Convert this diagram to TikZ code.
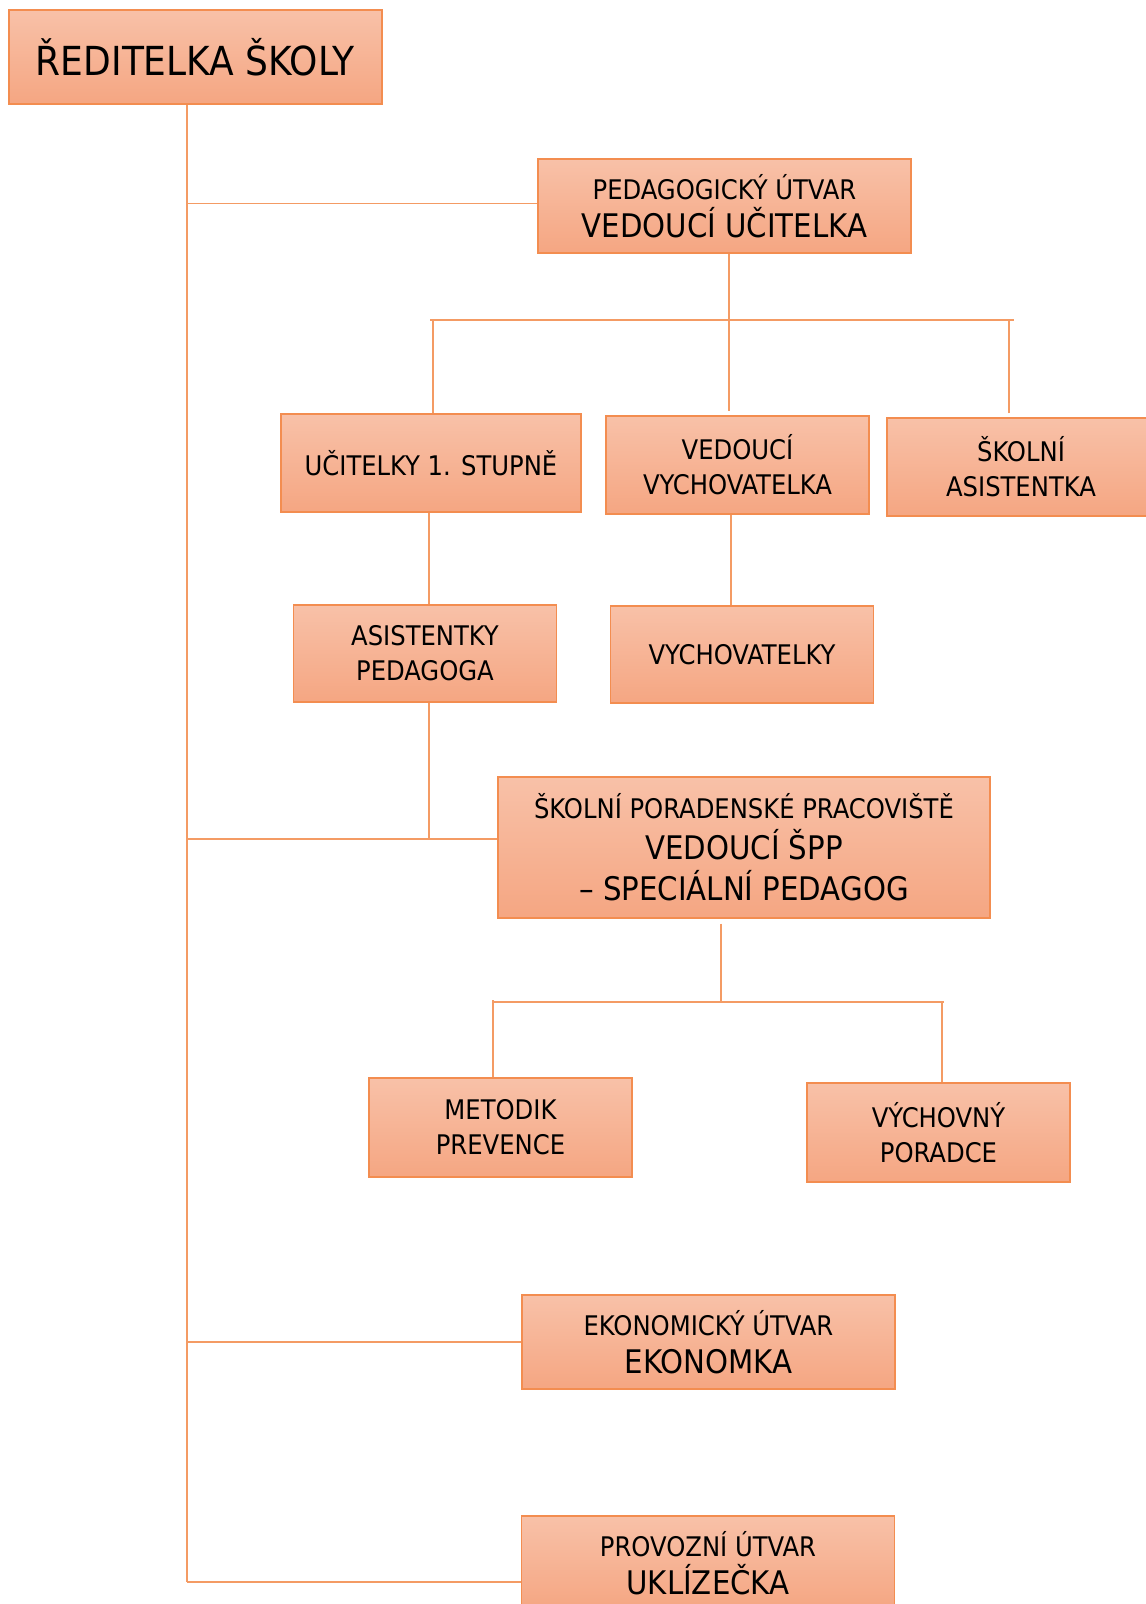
\documentclass[tikz,border=0pt]{standalone}
\usepackage{fontspec}
\setmainfont{DejaVu Sans Condensed}
\usetikzlibrary{positioning}
\definecolor{boxtop}{RGB}{248,193,168}
\definecolor{boxbot}{RGB}{245,166,130}
\definecolor{boxline}{RGB}{243,141,80}
\definecolor{linkline}{RGB}{244,155,100}
\tikzset{
		orgbox/.style={draw=boxline, line width=1.4pt, top color=boxtop, bottom color=boxbot,
			align=center, inner sep=0pt, minimum width=263pt, minimum height=98pt,
			font=\fontsize{27}{35}\selectfont},
		widebox/.style={orgbox, minimum width=373pt, minimum height=94pt,
			font=\fontsize{27}{38}\selectfont},
		link/.style={draw=linkline, line width=1.3pt}
	}
\newcommand{\Small}[1]{{\fontsize{27}{30}\selectfont #1}}
\newcommand{\Head}[1]{{\fontsize{32.5}{36}\selectfont #1}}

\begin{document}
\begin{tikzpicture}[x=1pt, y=-1pt]
		\useasboundingbox (0, 0) rectangle (1146, 1604);
		% boxes
		\node[widebox, font=\fontsize{40}{44}\selectfont] (root) at (195.5, 57) {ŘEDITELKA ŠKOLY};
		\node[widebox] (ped) at (724.5, 206) {\Small{PEDAGOGICKÝ ÚTVAR}\\\Head{VEDOUCÍ UČITELKA}};
		\node[orgbox, minimum width=300pt] (ucit) at (431, 463) {UČITELKY 1. STUPNĚ};
		\node[orgbox] (vedvych) at (737.5, 465) {VEDOUCÍ\\VYCHOVATELKA};
		\node[orgbox, minimum width=268pt] (skas) at (1021, 467) {ŠKOLNÍ\\ASISTENTKA};
		\node[orgbox, minimum height=97pt] (asist) at (425, 653.5) {ASISTENTKY\\PEDAGOGA};
		\node[orgbox, minimum height=97pt] (vych) at (742, 654.5) {VYCHOVATELKY};
		\node[orgbox, minimum width=492pt, minimum height=141pt, font=\fontsize{27}{41}\selectfont] (spp) at (744, 847.5)
			{\Small{ŠKOLNÍ PORADENSKÉ PRACOVIŠTĚ}\\\Head{VEDOUCÍ ŠPP}\\\Head{– SPECIÁLNÍ PEDAGOG}};
		\node[orgbox, minimum height=99pt] (metodik) at (500.5, 1127.5) {METODIK\\PREVENCE};
		\node[orgbox, minimum height=99pt] (porad) at (938.5, 1132.5) {VÝCHOVNÝ\\PORADCE};
		\node[widebox] (ekon) at (708.5, 1342) {\Small{EKONOMICKÝ ÚTVAR}\\\Head{EKONOMKA}};
		\node[widebox] (provoz) at (708, 1563) {\Small{PROVOZNÍ ÚTVAR}\\\Head{UKLÍZEČKA}};
		% trunk and branches
		\coordinate (trunkend) at (187, 1582);
		\coordinate (pedjoin) at ([yshift=2.5pt]ped.west);
		\coordinate (sppjoin) at ([yshift=8.5pt]spp.west);
		\coordinate (provjoin) at ([yshift=-19pt]provoz.west);
		\draw[link] (root.south -| trunkend) -- (trunkend);
		\draw[link] (trunkend |- pedjoin) -- (pedjoin);
		\draw[link] (trunkend |- sppjoin) -- (sppjoin);
		\draw[link] (trunkend |- ekon.west) -- (ekon.west);
		\draw[link] (trunkend) -- (provjoin);
		% pedagogical unit
		\coordinate (busA) at (430, 320);
		\coordinate (busB) at (1014, 320);
		\draw[link] (busA) -- (busB);
		\draw[link] ([xshift=4.5pt]ped.south) -- ([xshift=-8.5pt, yshift=4pt]vedvych.north);
		\draw[link] ([xshift=2pt]ucit.north) -- ([xshift=2pt]ucit.north |- busA);
		\draw[link] ([xshift=-12pt, yshift=4pt]skas.north) -- ([xshift=-12pt]skas.north |- busB);
		\draw[link] ([xshift=-2pt]ucit.south) -- ([xshift=-2pt]ucit.south |- asist.north);
		\draw[link] ([xshift=-6.5pt]vedvych.south) -- ([xshift=-6.5pt]vedvych.south |- vych.north);
		\draw[link] ([xshift=4pt]asist.south) -- ([xshift=4pt]asist.south |- sppjoin);
		% counselling unit
		\coordinate (busC) at (492, 1002);
		\coordinate (busD) at (944, 1002);
		\draw[link] (busC) -- (busD);
		\draw[link] ([xshift=-23pt, yshift=-5pt]spp.south) -- ([xshift=-23pt]spp.south |- busC);
		\draw[link] ([xshift=-7.5pt]metodik.north) -- ([xshift=-7.5pt, yshift=2pt]metodik.north |- busC);
		\draw[link] ([xshift=3.5pt]porad.north) -- ([xshift=3.5pt]porad.north |- busD);
	\end{tikzpicture}
\end{document}
